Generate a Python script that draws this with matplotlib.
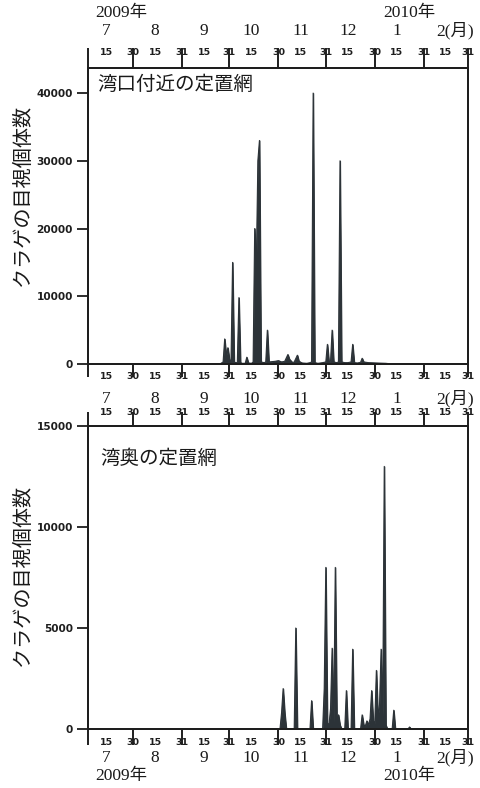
import datetime as dt
import numpy as np
import matplotlib
matplotlib.use("Agg")
import matplotlib.pyplot as plt
import matplotlib.dates as mdates

plt.rcParams['font.family'] = ['Noto Sans CJK JP', 'DejaVu Sans']

# ---------------- data ----------------
mouth_dates = ["2009-07-03", "2009-09-25", "2009-09-27", "2009-09-28", "2009-09-29", "2009-09-30",
               "2009-10-01", "2009-10-02", "2009-10-03", "2009-10-04", "2009-10-05", "2009-10-06",
               "2009-10-07", "2009-10-08", "2009-10-09", "2009-10-11", "2009-10-12", "2009-10-13",
               "2009-10-15", "2009-10-16", "2009-10-17", "2009-10-18", "2009-10-19", "2009-10-20",
               "2009-10-21", "2009-10-23", "2009-10-24", "2009-10-25", "2009-10-26", "2009-10-28",
               "2009-10-30", "2009-11-01", "2009-11-03", "2009-11-05", "2009-11-06", "2009-11-07",
               "2009-11-08", "2009-11-10", "2009-11-11", "2009-11-12", "2009-11-13", "2009-11-14",
               "2009-11-16", "2009-11-19", "2009-11-21", "2009-11-22", "2009-11-23", "2009-11-24",
               "2009-11-26", "2009-11-29", "2009-12-01", "2009-12-02", "2009-12-03", "2009-12-04",
               "2009-12-05", "2009-12-06", "2009-12-08", "2009-12-09", "2009-12-10", "2009-12-11",
               "2009-12-13", "2009-12-15", "2009-12-17", "2009-12-18", "2009-12-19", "2009-12-21",
               "2009-12-23", "2009-12-24", "2009-12-25", "2009-12-28", "2010-01-02", "2010-01-08",
               "2010-01-12", "2010-03-01"]
mouth_counts = [0, 0, 300, 3700, 1200, 2400,
                700, 300, 15000, 300, 200, 200,
                9800, 200, 100, 100, 1000, 150,
                100, 300, 20000, 14000, 30000, 33000,
                300, 200, 300, 5000, 300, 350,
                400, 500, 300, 400, 900, 1400,
                700, 200, 300, 800, 1300, 400,
                150, 100, 200, 300, 40000, 200,
                100, 200, 300, 2900, 300, 400,
                5000, 300, 200, 300, 30000, 300,
                200, 200, 300, 2900, 200, 150,
                250, 850, 300, 200, 150, 100,
                0, 0]

inner_dates = ["2009-07-03", "2009-11-02", "2009-11-03", "2009-11-04", "2009-11-05", "2009-11-06",
               "2009-11-11", "2009-11-12", "2009-11-13", "2009-11-21", "2009-11-22", "2009-11-23",
               "2009-11-29", "2009-11-30", "2009-12-01", "2009-12-02", "2009-12-03", "2009-12-04",
               "2009-12-05", "2009-12-06", "2009-12-07", "2009-12-08", "2009-12-09", "2009-12-10",
               "2009-12-11", "2009-12-13", "2009-12-14", "2009-12-15", "2009-12-17", "2009-12-18",
               "2009-12-19", "2009-12-23", "2009-12-24", "2009-12-25", "2009-12-26", "2009-12-27",
               "2009-12-28", "2009-12-29", "2009-12-30", "2009-12-31", "2010-01-01", "2010-01-02",
               "2010-01-03", "2010-01-04", "2010-01-05", "2010-01-06", "2010-01-07", "2010-01-08",
               "2010-01-09", "2010-01-12", "2010-01-13", "2010-01-14", "2010-01-22", "2010-01-23",
               "2010-01-24", "2010-03-01"]
inner_counts = [0, 0, 800, 2000, 800, 0,
                0, 5000, 0, 0, 1400, 0,
                0, 2000, 8000, 300, 200, 1000,
                4000, 300, 8000, 400, 700, 200,
                0, 0, 1900, 0, 0, 3950,
                0, 0, 700, 200, 150, 400,
                200, 500, 1900, 400, 300, 2900,
                600, 1200, 3950, 600, 13000, 200,
                0, 0, 930, 0, 0, 100,
                0, 0]

day_tick_labels_major = ["", "30", "31", "31", "30", "31", "30", "31", "31"]
day_tick_labels_minor = ["15"] * 8
month_names = ["7", "8", "9", "10", "11", "12", "1", "2(月)"]
year_labels = ["2009年", "2010年"]
panel_titles = ["湾口付近の定置網", "湾奥の定置網"]
ylabel_text = "クラゲの目視個体数"

# ---------------- helpers ----------------
def dnum(s):
    return mdates.date2num(dt.datetime.strptime(s, "%Y-%m-%d"))

x_left = mdates.date2num(dt.datetime(2009, 7, 3, 12))
x_right = mdates.date2num(dt.datetime(2010, 3, 1))
month_starts = [(2009, 8), (2009, 9), (2009, 10), (2009, 11), (2009, 12), (2010, 1), (2010, 2), (2010, 3)]
major_pos = [x_left] + [mdates.date2num(dt.datetime(y, m, 1)) for y, m in month_starts]
mid_months = [(2009, 7), (2009, 8), (2009, 9), (2009, 10), (2009, 11), (2009, 12), (2010, 1), (2010, 2)]
minor_pos = [mdates.date2num(dt.datetime(y, m, 15)) for y, m in mid_months]

W, H = 480, 788
fig = plt.figure(figsize=(W / 100, H / 100), dpi=100)
fig.patch.set_facecolor("white")

FILL = "#2c3338"
SPINE = "#1e1e1e"
serif = ['Liberation Serif', 'Noto Sans CJK JP']

def ax_rect(x0, y0, x1, y1):
    return [x0 / W, 1 - y1 / H, (x1 - x0) / W, (y1 - y0) / H]

def style_day_axis(ax, length, pad_major, pad_minor):
    ax.set_xticks(major_pos)
    ax.set_xticklabels(day_tick_labels_major)
    ax.set_xticks(minor_pos, minor=True)
    ax.set_xticklabels(day_tick_labels_minor, minor=True)
    kw = dict(axis='x', direction='out', labelsize=6.8, colors=SPINE)
    ax.tick_params(which='major', length=length, width=1.4, pad=pad_major, **kw)
    ax.tick_params(which='minor', length=0, pad=pad_minor, **kw)
    for lab in ax.get_xticklabels(which='both'):
        lab.set_fontweight('bold')
        lab.set_family('DejaVu Sans')

panels = [
    dict(rect=ax_rect(88, 68, 468, 364), dates=mouth_dates, counts=mouth_counts,
         ylim=(0, 43700), yticks=[0, 10000, 20000, 30000, 40000],
         top=(14.4, -6.8, 7.6), bottom=(9.4, -3.8, 5.6),
         title=panel_titles[0], title_xy=(0.024, 0.943), ylab_y=195),
    dict(rect=ax_rect(88, 426, 468, 729), dates=inner_dates, counts=inner_counts,
         ylim=(0, 15000), yticks=[0, 5000, 10000, 15000],
         top=(10.0, -3.8, 6.2), bottom=(11.5, -5.2, 6.3),
         title=panel_titles[1], title_xy=(0.031, 0.894), ylab_y=575),
]

for p in panels:
    ax = fig.add_axes(p['rect'])
    xs = np.array([dnum(s) for s in p['dates']])
    ys = np.array(p['counts'], dtype=float)
    ax.fill_between(xs, 0, ys, color=FILL, linewidth=0.8, edgecolor=FILL)
    ax.plot(xs, ys, color=FILL, lw=0.8)
    ax.set_xlim(x_left, x_right)
    ax.set_ylim(*p['ylim'])
    for sp in ax.spines.values():
        sp.set_linewidth(1.4)
        sp.set_color(SPINE)
    style_day_axis(ax, *p['bottom'])
    axt = ax.twiny()
    axt.set_xlim(x_left, x_right)
    style_day_axis(axt, *p['top'])
    for sp in axt.spines.values():
        sp.set_linewidth(1.4)
        sp.set_color(SPINE)
    ax.set_yticks(p['yticks'])
    ax.set_yticklabels([str(v) for v in p['yticks']])
    ax.tick_params(axis='y', direction='out', length=8, width=1.3, pad=3,
                   labelsize=7.6, colors=SPINE)
    for lab in ax.get_yticklabels():
        lab.set_fontweight('bold')
        lab.set_family('DejaVu Sans')
    ax.text(p['title_xy'][0], p['title_xy'][1], p['title'], transform=ax.transAxes,
            fontsize=14, ha='left', va='center', color='#1a1a1a')
    fig.text(22 / W, 1 - p['ylab_y'] / H, ylabel_text, rotation=90, fontsize=14.5,
             ha='center', va='center', color='#1a1a1a')

jul1 = mdates.date2num(dt.datetime(2009, 7, 1))

def month_row(y_px):
    for i, name in enumerate(month_names):
        if i < len(month_names) - 1:
            fig.text((84 + (minor_pos[i] - jul1) * 1.58) / W, 1 - y_px / H, name,
                     ha='center', va='center', fontsize=12.5, family=serif, color='#1a1a1a')
        else:
            fig.text(436 / W, 1 - y_px / H, name, ha='left', va='center', fontsize=12.5,
                     family=serif, color='#1a1a1a')

def year_row(y_px):
    fig.text(95 / W, 1 - y_px / H, year_labels[0], ha='left', va='center', fontsize=12.5,
             family=serif, color='#1a1a1a')
    fig.text(383 / W, 1 - y_px / H, year_labels[1], ha='left', va='center', fontsize=12.5,
             family=serif, color='#1a1a1a')

year_row(13)
month_row(31)
month_row(399)
month_row(758)
year_row(776)

fig.savefig("out.png", dpi=100, facecolor="white")
